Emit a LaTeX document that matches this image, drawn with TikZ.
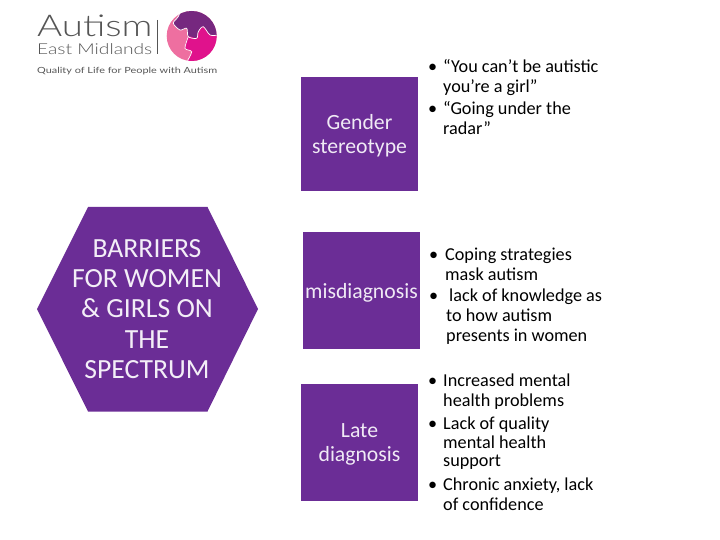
\documentclass[tikz,border=0pt]{standalone}
\usepackage{fontspec}
\setmainfont{Carlito}
\newfontfamily\logofont[FakeStretch=1.28]{Lato Light}
\newfontfamily\logosmallfont[FakeStretch=1.28]{Lato}
\usetikzlibrary{positioning}
\definecolor{barrierpurple}{HTML}{6B2D96}
\definecolor{logogrey}{HTML}{555555}
\definecolor{puzzlepink}{HTML}{EE6FA0}
\definecolor{puzzlemagenta}{HTML}{E0128C}
\definecolor{puzzlepurple}{HTML}{76287F}
\newcommand{\notebullet}[1][15pt]{\makebox[#1][l]{\textbullet}}
\newcommand{\boxtext}[1]{\raisebox{-2pt}[\height][\depth]{#1}}
\tikzset{
  box_node/.style={fill=barrierpurple,text=white!90!barrierpurple,align=center,font=\fontsize{21.7}{24}\selectfont,inner sep=0pt,minimum height=117pt},
  note_node/.style={anchor=north west,inner sep=0pt,align=left,text=black,font=\fontsize{18.2}{20}\selectfont},
  logo_node/.style={inner sep=0pt,text=logogrey,anchor=base west}
}
\begin{document}
\begin{tikzpicture}[x=1pt,y=-1pt]
  \useasboundingbox (0,0) rectangle (720,540);
  % hexagon
  \fill[barrierpurple] (37,309) -- (88,207) -- (207.5,207) -- (258,309) -- (207.5,411.5) -- (88,411.5) -- cycle;
  \node[inner sep=0pt,align=center,text=white!92!barrierpurple,font=\fontsize{27.7}{30.2}\selectfont] (barriers) at (147,309) {BARRIERS\\FOR WOMEN\\\& GIRLS ON\\THE\\SPECTRUM};
  % boxes
  \node[box_node,minimum width=117pt,minimum height=114pt] (gender) at (359.5,134) {\boxtext{\parbox{110pt}{\centering Gender\\stereotype}}};
  \node[box_node,minimum width=117pt] (misdiag) at (361.5,290.5) {\boxtext{misdiagnosis}};
  \node[box_node,minimum width=117pt] (late) at (359.5,442.5) {\boxtext{\parbox{110pt}{\centering Late\\diagnosis}}};
  % notes
  \node[note_node] (note1a) at (428,59.5) {\notebullet ``You can't be autistic};
  \node[note_node] (note1b) at (443,79.5) {you're a girl''};
  \node[note_node] (note1c) at (428,101.5) {\notebullet ``Going under the};
  \node[note_node] (note1d) at (443,121.5) {radar''};
  \node[note_node] (note2a) at (429,247.5) {\notebullet[16pt]Coping strategies};
  \node[note_node] (note2b) at (445,267.5) {mask autism};
  \node[note_node] (note2c) at (429,289) {\notebullet[20pt]lack of knowledge as};
  \node[note_node] (note2d) at (446,308.5) {to how autism};
  \node[note_node] (note2e) at (446,328.5) {presents in women};
  \node[note_node] (note3a) at (428,373.5) {\notebullet Increased mental};
  \node[note_node] (note3b) at (443,393.5) {health problems};
  \node[note_node] (note3c) at (428,416.5) {\notebullet Lack of quality};
  \node[note_node] (note3d) at (443,435.5) {mental health};
  \node[note_node] (note3e) at (443,454.5) {support};
  \node[note_node] (note3f) at (428,477.5) {\notebullet Chronic anxiety, lack};
  \node[note_node] (note3g) at (443,497.5) {of confidence};
  % logo
  \node[logo_node,font=\logofont\fontsize{30}{30}\selectfont] (logo1) at (37,37) {Autism};
  \node[logo_node,font=\logofont\fontsize{15}{16}\selectfont] (logo2) at (37,54.5) {East Midlands};
  \node[logo_node,font=\logosmallfont\fontsize{8.5}{10}\selectfont] (logo3) at (37,73.5) {Quality of Life for People with Autism};
  \draw[logogrey,line width=0.8pt] (157,20) -- (157,54);
  \begin{scope}
    \clip (191.7,36) circle (25);
    \fill[puzzlepink] (165,10) rectangle (218,62);
    \fill[puzzlepurple] plot[smooth] coordinates {(181.7,9) (178,17) (173.3,23.3) (180,30) (186.7,28.3) (188.3,36.7) (196.7,38.3) (198.3,31.7) (203.3,26.7) (210,35) (218,35)} -- (218,9) -- cycle;
    \fill[puzzlemagenta] plot[smooth] coordinates {(218,35) (210,35) (203.3,26.7) (198.3,31.7) (196.7,38.3) (188.3,36.7) (185,48.3) (191.7,51.7) (186.7,62)} -- (218,62) -- cycle;
    \draw[white,line width=0.7pt] plot[smooth] coordinates {(181.7,9) (178,17) (173.3,23.3) (180,30) (186.7,28.3) (188.3,36.7) (196.7,38.3) (198.3,31.7) (203.3,26.7) (210,35) (218,35)};
    \draw[white,line width=0.7pt] plot[smooth] coordinates {(188.3,36.7) (185,48.3) (191.7,51.7) (186.7,62)};
  \end{scope}
\end{tikzpicture}
\end{document}
